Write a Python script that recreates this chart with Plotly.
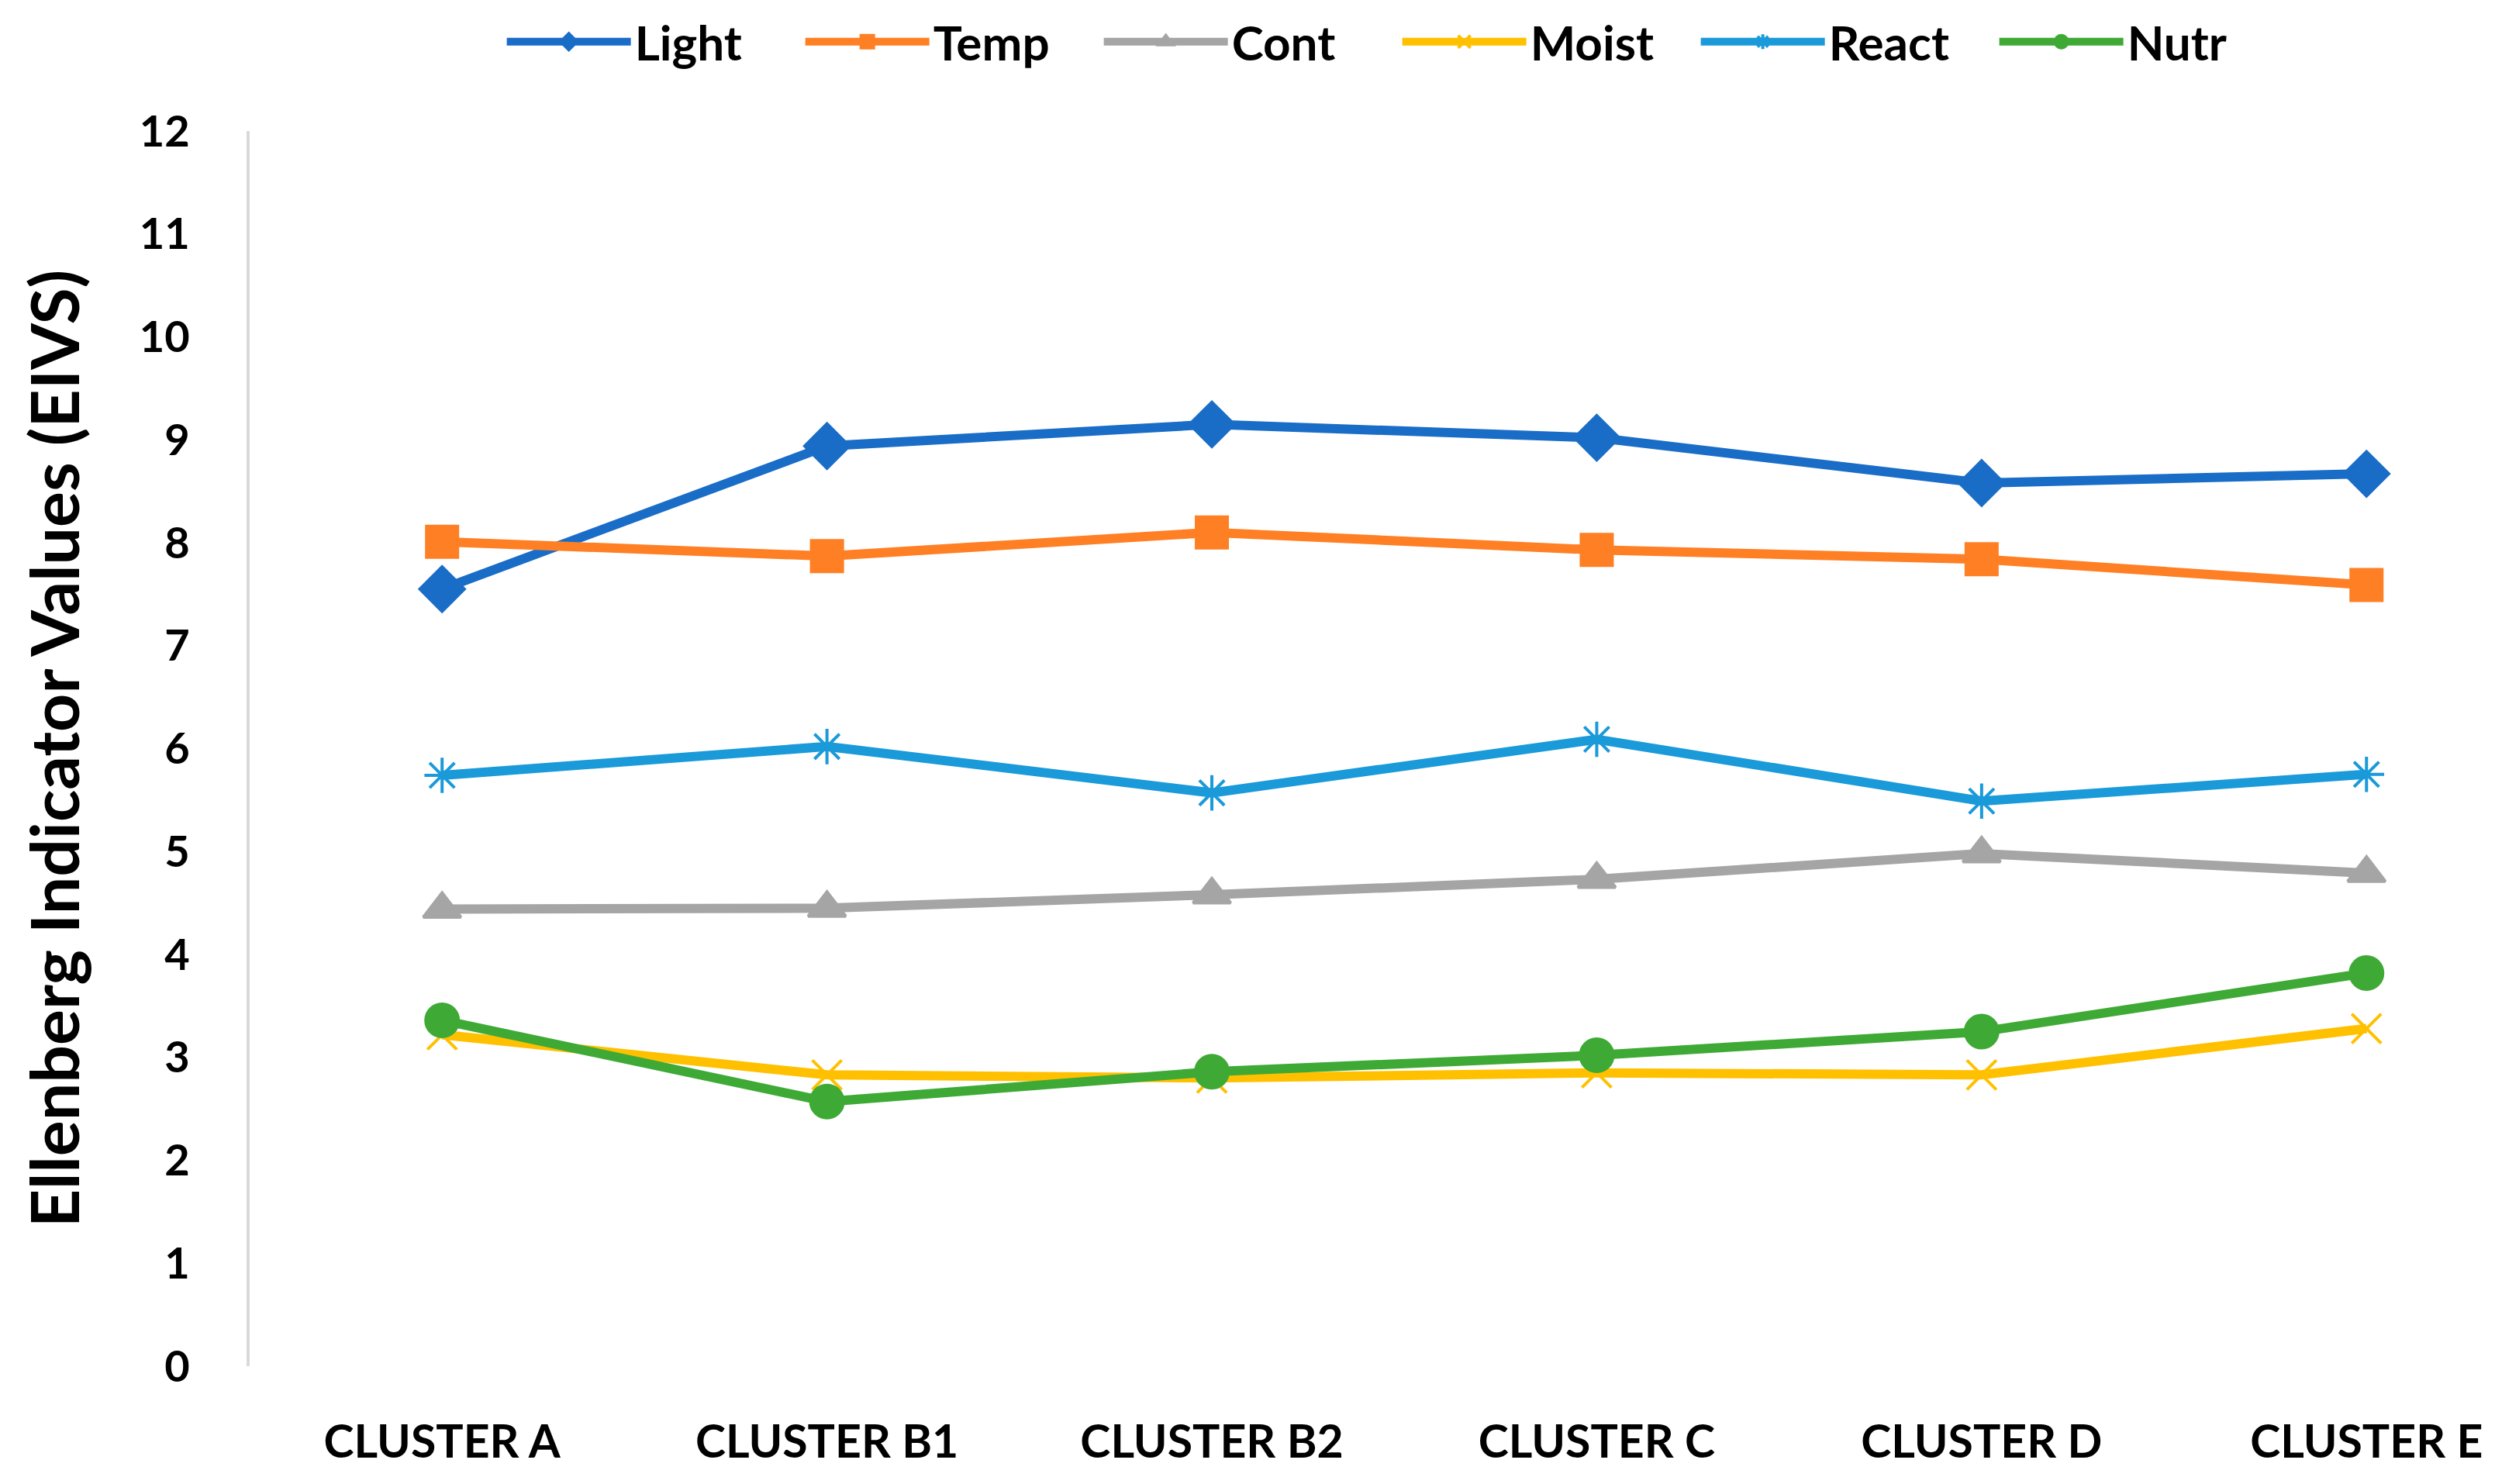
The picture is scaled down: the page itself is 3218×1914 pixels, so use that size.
import plotly.graph_objects as go

categories = ["CLUSTER A", "CLUSTER B1", "CLUSTER B2", "CLUSTER C", "CLUSTER D", "CLUSTER E"]
light = [7.55, 8.94, 9.15, 9.02, 8.58, 8.67]
temp = [8.01, 7.87, 8.10, 7.93, 7.84, 7.59]
cont = [4.44, 4.45, 4.58, 4.73, 4.98, 4.79]
moist = [3.22, 2.83, 2.80, 2.85, 2.83, 3.28]
react = [5.74, 6.02, 5.57, 6.09, 5.49, 5.75]
nutr = [3.36, 2.57, 2.86, 3.02, 3.25, 3.82]
y_ticks = list(range(0, 13))

series = [
    ("Light", light, "#1A6DC6", "diamond", 44),
    ("Temp", temp, "#FF7F24", "square", 40),
    ("Cont", cont, "#A5A5A5", "triangle-up", 42),
    ("Moist", moist, "#FFC000", "x-thin-open", 38),
    ("React", react, "#1A9AD9", "asterisk-open", 38),
    ("Nutr", nutr, "#3EAA35", "circle", 42),
]

FONT = "Lato"
fig = go.Figure()
for name, vals, color, sym, size in series:
    fig.add_trace(go.Scatter(
        x=categories, y=vals, name=name, mode="lines+markers",
        line=dict(color=color, width=12),
        marker=dict(symbol=sym, size=size, color=color,
                    line=dict(color=color, width=4)),
    ))

fig.update_layout(
    width=3218, height=1914,
    paper_bgcolor="white", plot_bgcolor="white",
    margin=dict(l=314, r=0, t=161, b=160),
    font=dict(family=FONT, color="black"),
    showlegend=True,
    legend=dict(orientation="h", xref="container", yref="container",
                x=0.558, y=0.976, xanchor="center", yanchor="middle",
                font=dict(family=FONT, size=62, weight="bold"),
                itemwidth=160, entrywidth=210, tracegroupgap=0),
)
fig.update_xaxes(
    type="category", range=[-0.5, 5.35],
    showline=False, showgrid=False, zeroline=False, ticks="",
    tickfont=dict(family=FONT, size=59, weight="bold"),
    ticklabelstandoff=58,
)
fig.update_yaxes(
    range=[0, 12], tickvals=y_ticks, ticktext=[str(v) for v in y_ticks],
    showline=True, linecolor="#D9D9D9", linewidth=4,
    showgrid=False, zeroline=False, ticks="",
    tickfont=dict(family=FONT, size=56, weight="bold"),
    ticklabelstandoff=62,
    title=dict(text="Ellenberg Indicator Values (EIVS)",
               font=dict(family=FONT, size=86, weight="bold"), standoff=50),
)
fig.write_html("out.html")
